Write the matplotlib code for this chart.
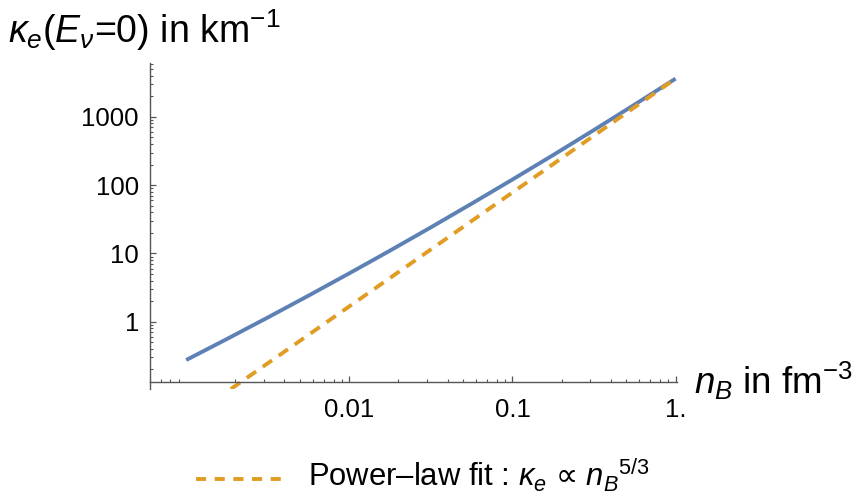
import numpy as np
import matplotlib
matplotlib.use("Agg")
import matplotlib.pyplot as plt
from matplotlib.ticker import LogLocator, FixedLocator, FixedFormatter, NullFormatter
from matplotlib.lines import Line2D

plt.rcParams['font.family'] = ['Liberation Sans', 'DejaVu Sans']
plt.rcParams['mathtext.fontset'] = 'custom'
plt.rcParams['mathtext.rm'] = 'Liberation Sans'
plt.rcParams['mathtext.it'] = 'Liberation Sans:italic'
plt.rcParams['mathtext.bf'] = 'Liberation Sans:bold'
plt.rcParams['mathtext.sf'] = 'DejaVu Sans'

# ---- data ----
n_B = [0.001, 0.00178, 0.00316, 0.00562, 0.01, 0.0178, 0.0316, 0.0562,
       0.1, 0.178, 0.316, 0.562, 1.0]
kappa_e = [0.275, 0.560, 1.152, 2.41, 5.12, 11.03, 24.1, 53.6,
           120.9, 276.7, 642.7, 1517, 3631]

n_fit = [0.0015, 1.0]
kappa_fit = [0.071, 3631]

x_ticks = [0.01, 0.1, 1.0]
x_ticklabels = ["0.01", "0.1", "1."]
y_ticks = [1, 10, 100, 1000]
y_ticklabels = ["1", "10", "100", "1000"]

BLUE = "#5E81B5"
ORANGE = "#E19C24"
AXC = "#555555"
LW = 2.8
DASH = (2.9, 2.1)

fig = plt.figure(figsize=(8.62, 4.99), dpi=100)
W, H = 862, 499
x0, x1 = 150, 677
y_top, y_bot = 63, 389
ax = fig.add_axes([x0 / W, 1 - y_bot / H, (x1 - x0) / W, (y_bot - y_top) / H])

ax.set_xscale('log')
ax.set_yscale('log')
ax.set_xlim(6.0e-4, 1.02)
ax.set_ylim(0.1035, 6150)

ax.plot(n_B, kappa_e, color=BLUE, lw=LW, solid_capstyle='butt', solid_joinstyle='round')
ax.plot(n_fit, kappa_fit, color=ORANGE, lw=LW, dashes=DASH)

for s in ['top', 'right']:
    ax.spines[s].set_visible(False)
ax.spines['bottom'].set_position(('data', 0.133))
ax.spines['left'].set_position(('data', 6.0e-4))
for s in ['bottom', 'left']:
    ax.spines[s].set_color(AXC)
    ax.spines[s].set_linewidth(1.0)

ax.xaxis.set_major_locator(FixedLocator(x_ticks))
ax.xaxis.set_major_formatter(FixedFormatter(x_ticklabels))
ax.yaxis.set_major_locator(FixedLocator(y_ticks))
ax.yaxis.set_major_formatter(FixedFormatter(y_ticklabels))
ax.xaxis.set_minor_locator(LogLocator(base=10, subs=np.arange(2, 10), numticks=20))
ax.yaxis.set_minor_locator(LogLocator(base=10, subs=np.arange(2, 10), numticks=20))
ax.xaxis.set_minor_formatter(NullFormatter())
ax.yaxis.set_minor_formatter(NullFormatter())

ax.tick_params(which='major', direction='in', length=4.5, width=0.9, color=AXC,
               labelsize=18.5, labelcolor='black')
ax.tick_params(which='minor', direction='in', length=2.5, width=0.8, color=AXC)
ax.tick_params(axis='x', which='major', pad=12)
ax.tick_params(axis='y', which='major', pad=8)

fig.text(8 / W, 1 - 30 / H, r'$\kappa_e(E_\nu$=0) in km$^{-1}$', fontsize=27,
         ha='left', va='center')
fig.text(694 / W, 1 - 381 / H, r'$n_B$ in fm$^{-3}$', fontsize=26.5,
         ha='left', va='center')

# legend
fig.add_artist(Line2D([196 / W, 286 / W], [1 - 478.7 / H, 1 - 478.7 / H],
                      transform=fig.transFigure, color=ORANGE, lw=LW, dashes=(2.6, 2.2)))
fig.text(308 / W, 1 - 487 / H,
         r'Power–law fit : $\kappa_e\ \mathsf{∝}\ {n_B}^{5/3}$', fontsize=22.3,
         ha='left', va='baseline')

fig.savefig("out.png", dpi=100)
